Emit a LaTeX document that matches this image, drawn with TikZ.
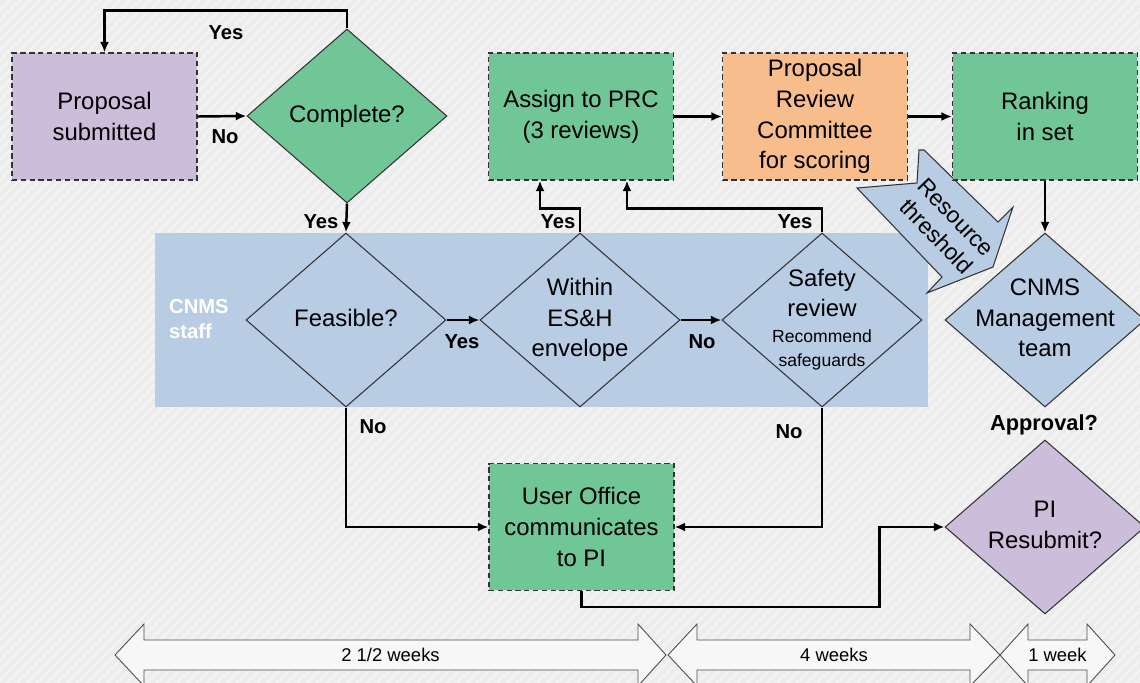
\documentclass[tikz,border=0pt]{standalone}
\usepackage{fontspec}
\setmainfont{Liberation Sans}
\usetikzlibrary{shapes.geometric,arrows.meta}

\definecolor{bggray}{RGB}{236,236,236}
\definecolor{bgstripe}{RGB}{243,243,243}
\definecolor{boxgreen}{RGB}{112,198,150}
\definecolor{boxlilac}{RGB}{204,190,218}
\definecolor{boxorange}{RGB}{248,189,140}
\definecolor{bandblue}{RGB}{184,204,228}

\newcommand\boxfont{\fontsize{13.6}{17.5}\selectfont}
\newcommand\lblfont{\bfseries\fontsize{11.5}{13}\selectfont}
\newcommand\ctr[1]{\makebox[0pt]{\begin{tabular}{@{}c@{}}#1\end{tabular}}}

\tikzset{
  box/.style={draw=black!80, densely dashed, line width=0.6pt, minimum width=3.7cm,
    minimum height=2.54cm, inner sep=0pt, align=center, font=\boxfont},
  dia/.style={draw=black!80, shape=diamond, line width=0.6pt, minimum width=4cm,
    minimum height=3.48cm, inner sep=0pt, font=\boxfont},
  flow/.style={line width=1.4pt, ->},
  lbl/.style={font=\lblfont},
  span/.style={draw=black!70, line width=0.5pt, fill=white!60!bggray},
}

\begin{document}
\begin{tikzpicture}[x=0.02cm,y=-0.02cm,>={Latex[length=6pt,width=5pt]}]
    \useasboundingbox (0,0) rectangle (1140,683);
    \clip (0,0) rectangle (1140,683);
    \fill[bggray] (0,0) rectangle (1140,683);
    \foreach \i in {-690,-680,...,1140}
        \draw[bgstripe, line width=1.5pt] (\i,690) -- ++(700,-700);
    % staff band
    \fill[bandblue] (155,233) rectangle (928,407);
    \node[anchor=west, align=left, text=white, font=\bfseries\fontsize{11.5}{14}\selectfont] (staff) at (163,319) {CNMS\\staff};
    % resource threshold arrow
    \draw[black!80, line width=0.6pt, fill=bandblue] (857,188) -- (917,183) -- (919,150) -- (924,150)
        -- (998,222) -- (1013,207) -- (993,267) -- (927,293) -- (942,277) -- cycle;
    \node[rotate=-46, align=center, font=\fontsize{13}{15.5}\selectfont] (thr) at (946,227) {Resource\\threshold};

    % boxes and decisions
    \node[box, fill=boxlilac] (sub) at (104.5,116.5) {Proposal\\submitted};
    \node[dia, fill=boxgreen] (comp) at (347,116) {\ctr{Complete?}};
    \node[box, fill=boxgreen] (assign) at (581,116.5) {Assign to PRC\\(3 reviews)};
    \node[box, fill=boxorange] (prc) at (815,116.5) {Proposal\\Review\\Committee\\for scoring};
    \node[box, fill=boxgreen] (rank) at (1045,116.5) {Ranking\\in set};
    \node[dia, fill=bandblue] (feas) at (346,320) {\ctr{Feasible?}};
    \node[dia, fill=bandblue] (within) at (580,320) {\ctr{Within\\ES\&H\\envelope}};
    \node[dia, fill=bandblue] (safety) at (822,320) {\ctr{\fontsize{13.6}{15}\selectfont Safety\\review\\[-3pt]
        \fontsize{10}{11}\selectfont Recommend\\[-4pt] \fontsize{10}{11}\selectfont safeguards}};
    \node[dia, fill=bandblue] (mgmt) at (1045,320) {\ctr{CNMS\\Management\\team}};
    \node[box, fill=boxgreen] (uo) at (581.5,527) {User Office\\communicates\\to PI};
    \node[dia, fill=boxlilac] (pi) at (1045,527) {\ctr{PI\\Resubmit?}};

    % connectors
    \draw[flow] (sub.east) -- (comp.west);
    \draw[flow] (comp.north) -- ++(0,-18) -| (sub.north);
    \draw[flow] (comp.south) -- (feas.north);
    \draw[flow] (feas.east) -- (within.west);
    \draw[flow] (within.east) -- (safety.west);
    \draw[flow] (within.north) -- ++(0,-24) -| ([xshift=-0.82cm]assign.south);
    \draw[flow] (safety.north) -- ++(0,-24) -| ([xshift=0.92cm]assign.south);
    \draw[flow] (assign.east) -- (prc.west);
    \draw[flow] (prc.east) -- (rank.west);
    \draw[flow] (rank.south) -- (mgmt.north);
    \draw[flow] (feas.south) |- (uo.west);
    \draw[flow] (safety.south) |- (uo.east);
    \draw[flow] (uo.south) -- ++(0,16) -| ([xshift=-1.3cm]pi.west) -- (pi.west);

    % answers
    \node[lbl] (yes-a) at (226,33) {Yes};
    \node[lbl] (no-a) at (225,137) {No};
    \node[lbl] (yes-b) at (321,222) {Yes};
    \node[lbl] (yes-c) at (462,342) {Yes};
    \node[lbl] (no-b) at (702,342) {No};
    \node[lbl] (yes-d) at (558,222) {Yes};
    \node[lbl] (yes-e) at (795,222) {Yes};
    \node[lbl] (no-c) at (373,427) {No};
    \node[lbl] (no-d) at (789,432) {No};
    \node[lbl, font=\bfseries\fontsize{12.4}{14}\selectfont] (appr) at (1044,425) {Approval?};

    % time spans
    \foreach \a/\b/\c/\d/\t/\n in {115/144/638/666/{2 1/2 weeks}/long, 668/697/970/1000/{4 weeks}/mid, 1000/1028/1087/1115/{1 week}/short}{
        \draw[span] (\a,655) -- (\b,624) -- (\b,640) -- (\c,640) -- (\c,624) -- (\d,655)
            -- (\c,686) -- (\c,670) -- (\b,670) -- (\b,686) -- cycle;
        \node[font=\fontsize{10.5}{12}\selectfont] (span-\n) at ({(\a+\d)/2},655) {\t};
    }
\end{tikzpicture}
\end{document}
